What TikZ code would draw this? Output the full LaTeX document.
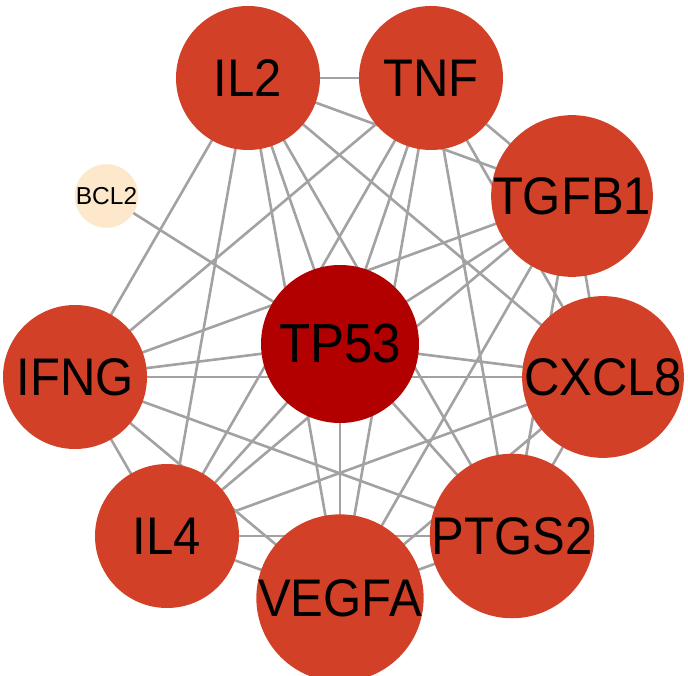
\documentclass[tikz,border=0pt]{standalone}
\usepackage{fontspec}
\setmainfont{Liberation Sans}
\usetikzlibrary{backgrounds}
\definecolor{ringred}{RGB}{211,64,40}
\definecolor{hubred}{RGB}{178,0,0}
\definecolor{peach}{RGB}{253,232,203}
\definecolor{edgegray}{RGB}{162,162,162}
\tikzset{
  gene/.style={circle, fill=ringred, draw=none, minimum size=144pt, inner sep=0pt,
    font=\fontsize{49}{50}\selectfont, text=black},
  hub/.style={circle, fill=hubred, draw=none, minimum size=158pt, inner sep=0pt,
    font=\fontsize{51}{52}\selectfont, text=black},
  small/.style={circle, fill=peach, draw=none, minimum size=50pt, inner sep=0pt,
    font=\fontsize{24.5}{25}\selectfont, text=black},
  edge/.style={draw=edgegray, line width=2.6pt}
}
\newcommand{\tall}[1]{\scalebox{1}[1.08]{#1}}
\begin{document}
\begin{tikzpicture}[x=1pt,y=-1pt]
\useasboundingbox (0,0) rectangle (688,676);
\node[gene] (IL2)   at (248,78)  {\tall{IL2}};
\node[gene] (TNF)   at (431,78)  {\tall{TNF}};
\node[gene] (TGFB1) at (572,196) {\tall{TGFB1}};
\node[gene] (CXCL8) at (603,377) {\tall{CXCL8}};
\node[gene] (PTGS2) at (512,536) {\tall{PTGS2}};
\node[gene] (VEGFA) at (340,598) {\tall{VEGFA}};
\node[gene] (IL4)   at (167,536) {\tall{IL4}};
\node[gene] (IFNG)  at (75,377)  {\tall{IFNG}};
\node[hub]  (TP53)  at (340,344) {\tall{TP53}};
\node[small] (BCL2) at (106.5,196) {BCL2};
\begin{scope}[on background layer]
  \foreach \a [count=\i] in {IL2,TNF,TGFB1,CXCL8,PTGS2,VEGFA,IL4,IFNG,TP53}{
    \foreach \b [count=\j] in {IL2,TNF,TGFB1,CXCL8,PTGS2,VEGFA,IL4,IFNG,TP53}{
      \ifnum\j>\i
        \draw[edge] (\a.center) -- (\b.center);
      \fi
    }
  }
  \draw[edge] (BCL2.center) -- (TP53.center);
\end{scope}
\end{tikzpicture}
\end{document}
